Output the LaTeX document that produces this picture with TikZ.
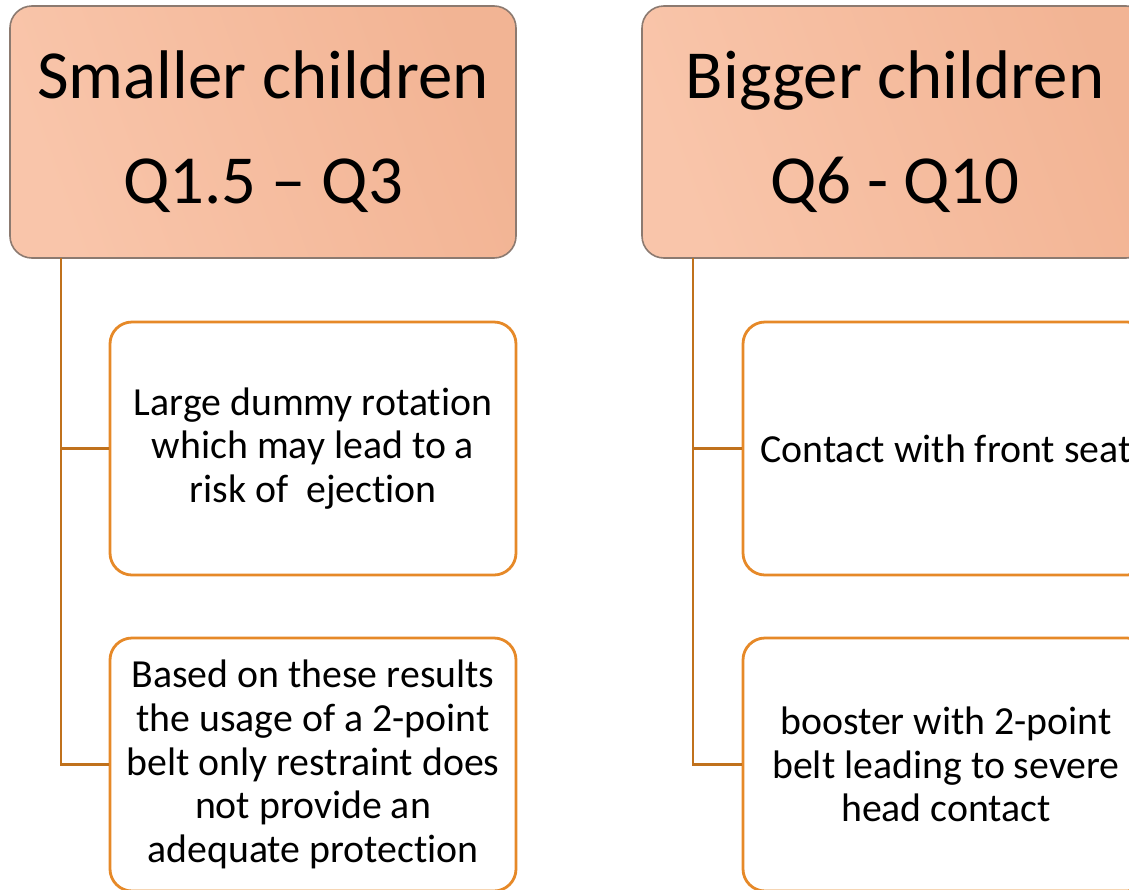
\documentclass[tikz,border=0pt]{standalone}
\usepackage{fontspec}
\setmainfont{Carlito}[Ligatures=NoCommon]
\definecolor{hdrA}{RGB}{249,197,170}
\definecolor{hdrB}{RGB}{242,180,148}
\definecolor{hdrLine}{RGB}{140,122,112}
\definecolor{trunk}{RGB}{192,113,28}
\definecolor{boxLine}{RGB}{230,137,40}
\tikzset{
    header/.style={draw=hdrLine, line width=0.8pt, rounded corners=11pt,
        left color=hdrA, right color=hdrB, shading angle=110,
        minimum width=253pt, minimum height=126pt, align=center,
        font=\fontsize{34.4}{52.5}\selectfont},
    detail/.style={draw=boxLine, line width=1.4pt, fill=white, rounded corners=11pt,
        minimum width=203pt, minimum height=126.5pt, align=center,
        font=\fontsize{19.9}{21.8}\selectfont},
    link/.style={draw=trunk, line width=1.4pt}
}
\begin{document}
\begin{tikzpicture}[x=0.5pt, y=-0.5pt]
        \useasboundingbox (0,0) rectangle (1129,889);
        \clip (0,0) rectangle (1129,889);

        % smaller children
        \node[header] (hS) at (263,132) {Smaller children\\Q1.5 -- Q3};
        \coordinate (tS) at (61,258);

        \node[detail] (sA) at (313,448.5) {Large dummy rotation\\which may lead to a\\risk of~~ejection};
        \node[detail] (sB) at (313,764.5) {Based on these results\\the usage of a 2-point\\belt only restraint does\\not provide an\\adequate protection};

        \draw[link] (tS) |- (sA.west);
        \draw[link] (tS) |- (sB.west);

        % bigger children
        \node[header] (hB) at (895,132) {Bigger children\\Q6 - Q10};
        \coordinate (tB) at (693,258);

        \node[detail] (bA) at (946,448.5) {Contact with front seat};
        \node[detail] (bB) at (946,764.5) {booster with 2-point\\belt leading to severe\\head contact};

        \draw[link] (tB) |- (bA.west);
        \draw[link] (tB) |- (bB.west);

    \end{tikzpicture}
\end{document}
